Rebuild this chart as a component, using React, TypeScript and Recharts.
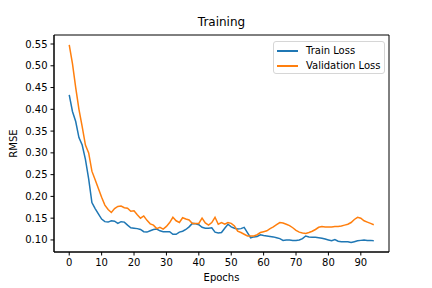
import React from 'react';
import { LineChart, Line, XAxis, YAxis, Label, ReferenceArea } from 'recharts';

// RMSE per epoch
const trainLoss = [
  0.433, 0.395, 0.372, 0.335, 0.318, 0.285, 0.24, 0.186, 0.172, 0.16,
  0.148, 0.142, 0.141, 0.144, 0.143, 0.138, 0.142, 0.141, 0.134, 0.128,
  0.127, 0.126, 0.124, 0.119, 0.118, 0.121, 0.124, 0.125, 0.121, 0.119,
  0.119, 0.119, 0.113, 0.113, 0.118, 0.12, 0.124, 0.13, 0.138, 0.137,
  0.135, 0.129, 0.127, 0.127, 0.128, 0.118, 0.116, 0.117, 0.127, 0.136,
  0.13, 0.127, 0.125, 0.126, 0.129, 0.117, 0.105, 0.107, 0.108, 0.112,
  0.11, 0.109, 0.108, 0.107, 0.105, 0.103, 0.099, 0.1, 0.1, 0.099,
  0.099, 0.1, 0.103, 0.109, 0.107, 0.106, 0.106, 0.105, 0.104, 0.102,
  0.1, 0.098, 0.101, 0.097, 0.096, 0.096, 0.096, 0.094, 0.096, 0.098,
  0.099, 0.1, 0.099, 0.099, 0.098,
];

const validationLoss = [
  0.548, 0.505, 0.45, 0.4, 0.36, 0.318, 0.3, 0.258, 0.238, 0.218,
  0.198, 0.18, 0.17, 0.163, 0.172, 0.177, 0.178, 0.174, 0.173, 0.166,
  0.167, 0.158, 0.15, 0.155, 0.145, 0.137, 0.134, 0.126, 0.129, 0.125,
  0.131, 0.14, 0.152, 0.144, 0.14, 0.151, 0.148, 0.146, 0.138, 0.138,
  0.138, 0.15, 0.139, 0.134, 0.14, 0.152, 0.136, 0.14, 0.136, 0.14,
  0.138, 0.132, 0.12, 0.117, 0.113, 0.109, 0.109, 0.109, 0.112, 0.117,
  0.119, 0.121, 0.126, 0.13, 0.135, 0.14, 0.139, 0.136, 0.133, 0.128,
  0.122, 0.118, 0.116, 0.115, 0.117, 0.12, 0.124, 0.129, 0.131, 0.13,
  0.13, 0.13, 0.131, 0.131, 0.132, 0.134, 0.136, 0.14, 0.147, 0.152,
  0.15, 0.144, 0.141, 0.138, 0.135,
];

const xTicks = [0, 10, 20, 30, 40, 50, 60, 70, 80, 90];
const yTicks = [0.1, 0.15, 0.2, 0.25, 0.3, 0.35, 0.4, 0.45, 0.5, 0.55];

const X_DOMAIN: [number, number] = [-4.7, 98.7];
const Y_DOMAIN: [number, number] = [0.0723, 0.5707];

const data = trainLoss.map((train, epoch) => ({
  epoch,
  train,
  validation: validationLoss[epoch],
}));

const FONT = 'DejaVu Sans';
const BLUE = '#1f77b4';
const ORANGE = '#ff7f0e';

function LegendBox() {
  const row = (color: string, text: string) => (
    <div style={{ display: 'flex', alignItems: 'center', height: 15 }}>
      <div style={{ width: 21, height: 2, background: color, marginRight: 8, flex: 'none' }} />
      <span>{text}</span>
    </div>
  );
  return (
    <div
      style={{
        position: 'absolute',
        left: 273,
        top: 41,
        width: 112,
        height: 33,
        fontFamily: FONT,
        fontSize: 10,
        color: '#000',
        whiteSpace: 'nowrap',
        background: 'rgba(255,255,255,0.8)',
        border: '1px solid #d6d6d6',
        borderRadius: 3,
        padding: '1px 0 0 3px',
        boxSizing: 'border-box',
      }}
    >
      {row(BLUE, 'Train Loss')}
      {row(ORANGE, 'Validation Loss')}
    </div>
  );
}

export default function App() {
  return (
    <div style={{ position: 'absolute', left: 0, top: 0, width: 432, height: 288, background: '#fff' }}>
      <div
        style={{
          position: 'absolute',
          left: 54,
          width: 335,
          top: 15,
          textAlign: 'center',
          fontFamily: FONT,
          fontSize: 12,
          color: '#000',
        }}
      >
        Training
      </div>
      <LineChart
        width={432}
        height={288}
        data={data}
        margin={{ top: 35, right: 43, bottom: 0, left: 0 }}
      >
        <XAxis
          dataKey="epoch"
          type="number"
          domain={X_DOMAIN}
          ticks={xTicks}
          height={36}
          allowDataOverflow
          tickSize={3.5}
          tickMargin={3}
          stroke="#000"
          tick={{ fill: '#000', fontSize: 10, fontFamily: FONT }}
        >
          <Label
            content={() => (
              <text x={221.5} y={281} textAnchor="middle" fontSize={10} fontFamily={FONT} fill="#000">
                Epochs
              </text>
            )}
          />
        </XAxis>
        <YAxis
          type="number"
          domain={Y_DOMAIN}
          ticks={yTicks}
          width={54}
          allowDataOverflow
          tickSize={3.5}
          tickMargin={3}
          stroke="#000"
          tickFormatter={(v: number) => v.toFixed(2)}
          tick={{ fill: '#000', fontSize: 10, fontFamily: FONT }}
        >
          <Label
            content={() => (
              <text
                x={17}
                y={143.5}
                transform="rotate(-90 17 143.5)"
                textAnchor="middle"
                fontSize={10}
                fontFamily={FONT}
                fill="#000"
              >
                RMSE
              </text>
            )}
          />
        </YAxis>
        {/* axes frame, like matplotlib's four spines */}
        <ReferenceArea
          x1={X_DOMAIN[0]}
          x2={X_DOMAIN[1]}
          y1={Y_DOMAIN[0]}
          y2={Y_DOMAIN[1]}
          fill="none"
          stroke="#000"
          strokeWidth={1}
          ifOverflow="visible"
        />
        <Line
          type="linear"
          dataKey="train"
          stroke={BLUE}
          strokeWidth={1.5}
          dot={false}
          isAnimationActive={false}
        />
        <Line
          type="linear"
          dataKey="validation"
          stroke={ORANGE}
          strokeWidth={1.5}
          dot={false}
          isAnimationActive={false}
        />
      </LineChart>
      <LegendBox />
    </div>
  );
}
